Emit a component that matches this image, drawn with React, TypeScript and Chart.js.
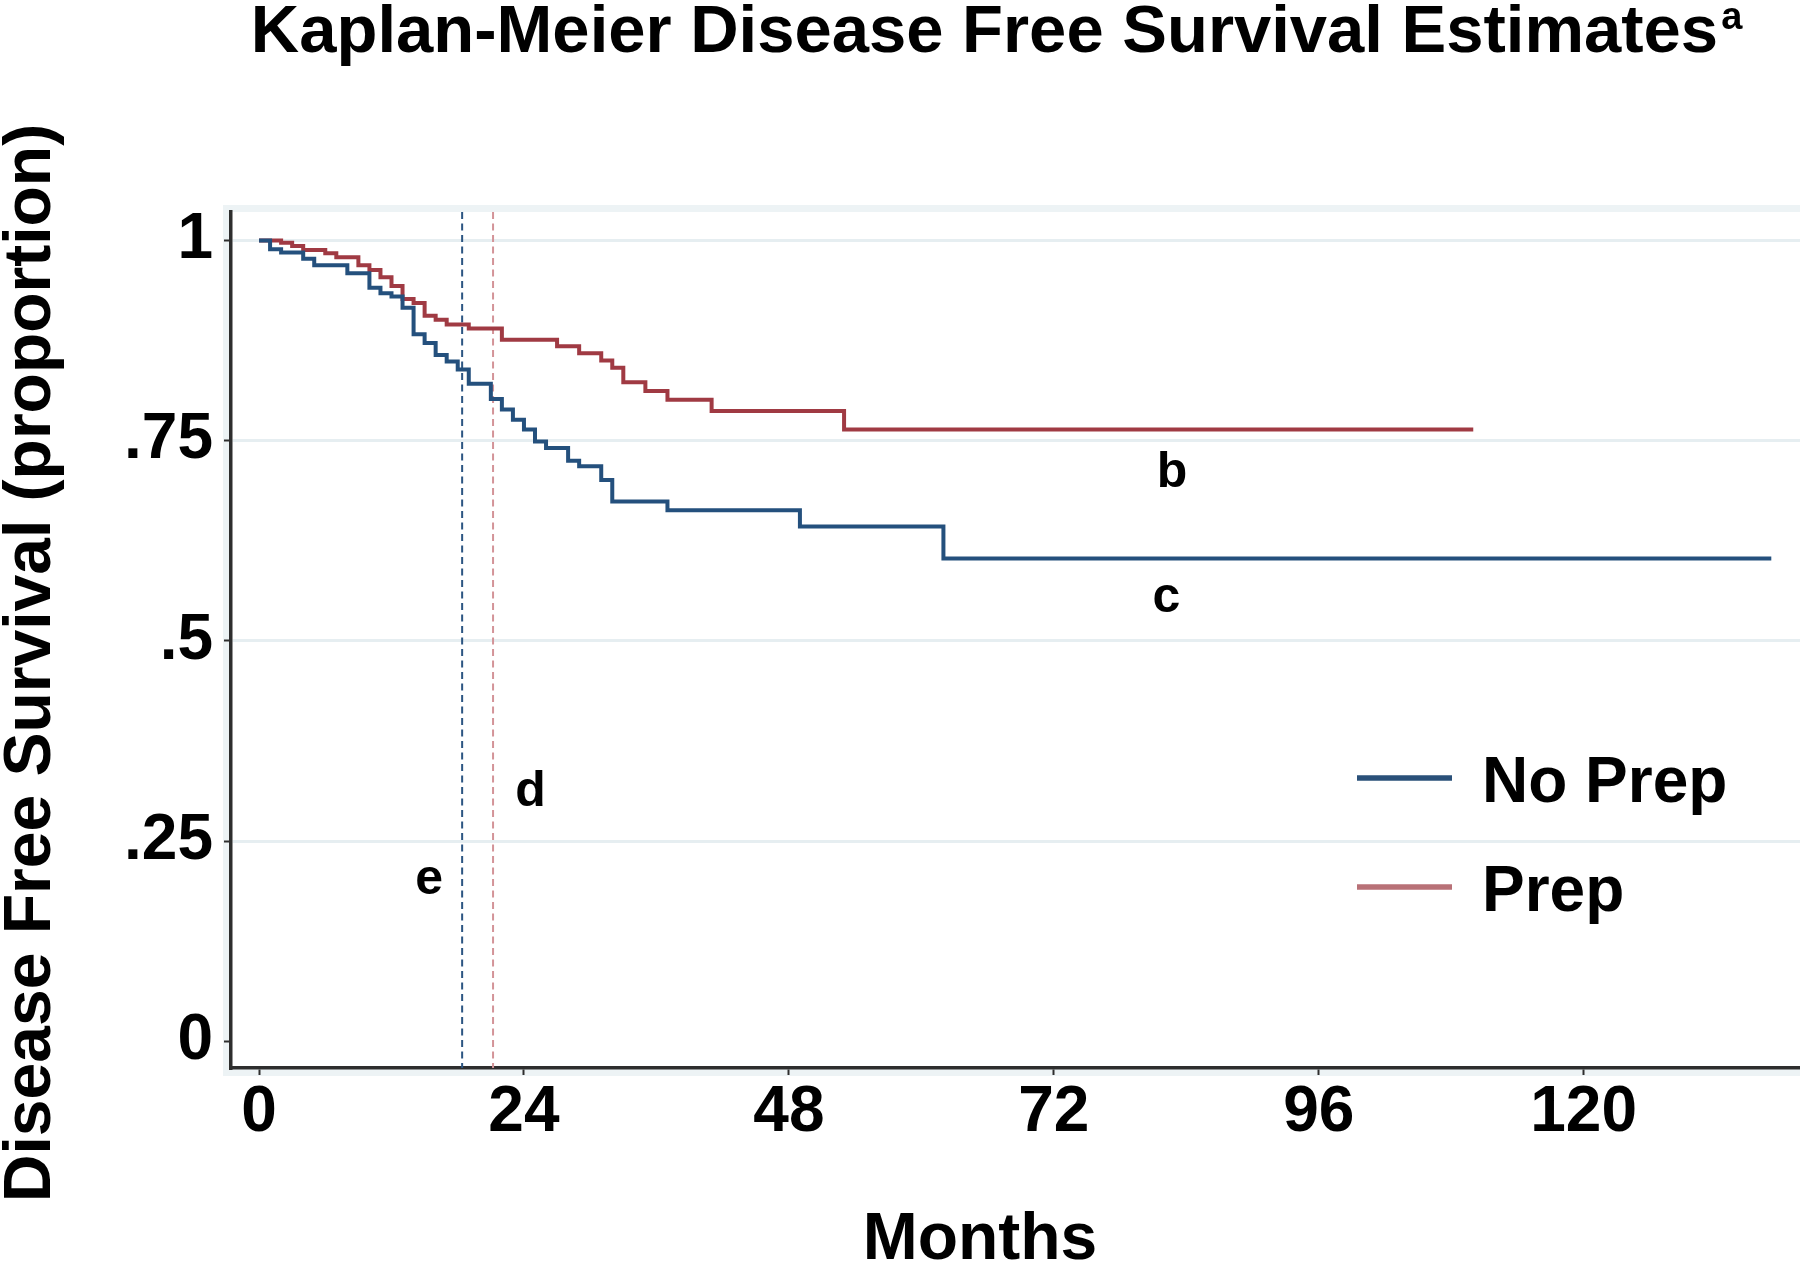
import React, { useEffect, useRef } from 'react';
import { Chart, registerables } from 'chart.js';

Chart.register(...registerables);

// ---- data ----
const noPrepMonths = [0, 1, 2, 4, 5, 8, 10, 11, 12, 13, 14, 15, 16, 17, 18, 19, 21, 22, 23, 24, 25, 26, 28, 29, 31, 32, 37, 49, 62, 137];
const noPrepSurvival = [1, 0.989, 0.985, 0.977, 0.969, 0.959, 0.941, 0.934, 0.93, 0.916, 0.883, 0.872, 0.857, 0.849, 0.839, 0.821, 0.802, 0.789, 0.776, 0.764, 0.749, 0.741, 0.725, 0.718, 0.701, 0.674, 0.663, 0.643, 0.603, 0.603];
const prepMonths = [0, 2, 3, 4, 6, 7, 9, 10, 11, 12, 13, 14, 15, 16, 17, 19, 22, 27, 29, 31, 32, 33, 35, 37, 41, 53, 110];
const prepSurvival = [1, 0.997, 0.993, 0.988, 0.984, 0.979, 0.969, 0.963, 0.954, 0.943, 0.927, 0.922, 0.906, 0.901, 0.895, 0.89, 0.876, 0.868, 0.859, 0.85, 0.841, 0.823, 0.812, 0.801, 0.787, 0.764, 0.764];

const seriesNames = ['No Prep', 'Prep'];
const refLineMonths = [18.4, 21.2]; // No Prep, Prep
const xTickValues = [0, 24, 48, 72, 96, 120];
const yTickValues = [0, 0.25, 0.5, 0.75, 1];
const yTickLabels = ['0', '.25', '.5', '.75', '1'];
const noteLabels = ['b', 'c', 'd', 'e'];
const noteMonths = [82.7, 82.2, 24.6, 15.4];
const noteSurvival = [0.6925, 0.5365, 0.2943, 0.1845];

const titleText = 'Kaplan-Meier Disease Free Survival Estimates';
const titleSup = 'a';
const xTitle = 'Months';
const yTitle = 'Disease Free Survival (proportion)';

// ---- styles ----
const FONT = '"Liberation Sans", Arial, Helvetica, sans-serif';
const BLUE = '#24507d';
const RED = '#a03a43';
const BLUE_LEGEND = '#2a5079';
const RED_LEGEND = '#b87177';
const BLUE_DASH = '#2c5582';
const RED_DASH = '#d39398';
const GRID = '#e6eef1';
const FRAME = '#edf3f5';
const AXIS = '#2e2e2e';

const X_MIN = -2.54;
const X_MAX = 139.6;
const Y_MIN = -0.0332;
const Y_MAX = 1.0355;

const decorPlugin = {
  id: 'decor',
  beforeDraw(chart: any) {
    const { ctx, chartArea: a, width, height } = chart;
    ctx.save();
    ctx.fillStyle = '#ffffff';
    ctx.fillRect(0, 0, width, height);
    ctx.fillStyle = FRAME;
    ctx.fillRect(a.left - 8, a.top - 7, a.right - a.left + 16, a.bottom - a.top + 15);
    ctx.fillStyle = '#ffffff';
    ctx.fillRect(a.left, a.top, a.right - a.left, a.bottom - a.top);
    ctx.restore();
  },
  afterDraw(chart: any) {
    const { ctx } = chart;
    const xs = chart.scales.x;
    const ys = chart.scales.y;
    ctx.save();
    ctx.fillStyle = '#000000';

    // title with superscript
    ctx.font = `bold 67px ${FONT}`;
    ctx.textAlign = 'left';
    ctx.textBaseline = 'alphabetic';
    const w = ctx.measureText(titleText).width;
    const tx = 984.5 - w / 2;
    ctx.fillText(titleText, tx, 52);
    ctx.font = `bold 38px ${FONT}`;
    ctx.fillText(titleSup, tx + w + 3, 29);

    // axis titles
    ctx.font = `bold 66px ${FONT}`;
    ctx.textAlign = 'center';
    ctx.fillText(xTitle, 980, 1259);
    ctx.save();
    ctx.translate(50, 663);
    ctx.rotate(-Math.PI / 2);
    ctx.fillText(yTitle, 0, 0);
    ctx.restore();

    // notes
    ctx.font = `bold 50px ${FONT}`;
    ctx.textAlign = 'center';
    noteLabels.forEach((t, i) => {
      ctx.fillText(t, xs.getPixelForValue(noteMonths[i]), ys.getPixelForValue(noteSurvival[i]));
    });

    // legend
    const legendColors = [BLUE_LEGEND, RED_LEGEND];
    const rowY = [778, 887];
    ctx.font = `bold 64px ${FONT}`;
    ctx.textAlign = 'left';
    seriesNames.forEach((name, i) => {
      ctx.strokeStyle = legendColors[i];
      ctx.lineWidth = 5.5;
      ctx.beginPath();
      ctx.moveTo(1357, rowY[i]);
      ctx.lineTo(1452, rowY[i]);
      ctx.stroke();
      ctx.fillStyle = '#000000';
      ctx.fillText(name, 1482, rowY[i] + 24);
    });
    ctx.restore();
  },
};

export default function App() {
  const ref = useRef<HTMLCanvasElement | null>(null);

  useEffect(() => {
    if (!ref.current) return;
    const toPts = (xs: number[], ys: number[]) => xs.map((x, i) => ({ x, y: ys[i] }));
    const chart = new Chart(ref.current, {
      type: 'line',
      data: {
        datasets: [
          {
            label: seriesNames[0],
            data: toPts(noPrepMonths, noPrepSurvival),
            borderColor: BLUE,
            borderWidth: 4,
            stepped: 'before',
            pointRadius: 0,
            fill: false,
            order: 1,
          },
          {
            label: seriesNames[1],
            data: toPts(prepMonths, prepSurvival),
            borderColor: RED,
            borderWidth: 4,
            stepped: 'before',
            pointRadius: 0,
            fill: false,
            order: 2,
          },
          {
            label: 'ref-noprep',
            data: [{ x: refLineMonths[0], y: Y_MAX }, { x: refLineMonths[0], y: Y_MIN }],
            borderColor: BLUE_DASH,
            borderWidth: 2,
            borderDash: [7, 4.5],
            pointRadius: 0,
            fill: false,
            order: 3,
          },
          {
            label: 'ref-prep',
            data: [{ x: refLineMonths[1], y: Y_MAX }, { x: refLineMonths[1], y: Y_MIN }],
            borderColor: RED_DASH,
            borderWidth: 2,
            borderDash: [7, 4.5],
            pointRadius: 0,
            fill: false,
            order: 4,
          },
        ],
      },
      options: {
        animation: false,
        responsive: false,
        maintainAspectRatio: false,
        devicePixelRatio: 1,
        layout: { padding: { top: 212, left: 0, right: 0, bottom: 0 } },
        plugins: {
          legend: { display: false },
          tooltip: { enabled: false },
          title: { display: false },
        },
        scales: {
          x: {
            type: 'linear',
            min: X_MIN,
            max: X_MAX,
            afterBuildTicks: (s: any) => {
              s.ticks = xTickValues.map((v) => ({ value: v }));
            },
            afterFit: (s: any) => {
              s.height = 195;
            },
            grid: {
              display: true,
              drawOnChartArea: false,
              drawTicks: true,
              tickLength: 7,
              tickColor: AXIS,
              tickWidth: 2,
            },
            border: { display: true, color: AXIS, width: 3.5 },
            ticks: {
              autoSkip: false,
              maxRotation: 0,
              padding: 0,
              color: '#000000',
              font: { family: FONT, size: 64, weight: 'bold' },
              callback: (v: any) => String(v),
            },
          },
          y: {
            type: 'linear',
            min: Y_MIN,
            max: Y_MAX,
            afterBuildTicks: (s: any) => {
              s.ticks = yTickValues.map((v) => ({ value: v }));
            },
            afterFit: (s: any) => {
              s.width = 231;
            },
            grid: {
              display: true,
              drawTicks: true,
              tickLength: 7,
              lineWidth: 3,
              tickWidth: 2,
              tickColor: AXIS,
              color: (c: any) => (c.tick && c.tick.value === 0 ? 'rgba(0,0,0,0)' : GRID),
            },
            border: { display: true, color: AXIS, width: 3.5 },
            ticks: {
              autoSkip: false,
              padding: 11,
              color: '#000000',
              font: { family: FONT, size: 64, weight: 'bold' },
              callback: (v: any) => {
                const i = yTickValues.indexOf(v);
                return i >= 0 ? yTickLabels[i] : '';
              },
            },
          },
        },
      },
      plugins: [decorPlugin],
    } as any);
    return () => chart.destroy();
  }, []);

  return (
    <div style={{ position: 'absolute', left: 0, top: 0, width: 1800, height: 1263, background: '#fff' }}>
      <canvas ref={ref} width={1800} height={1263} style={{ width: 1800, height: 1263, display: 'block' }} />
    </div>
  );
}
